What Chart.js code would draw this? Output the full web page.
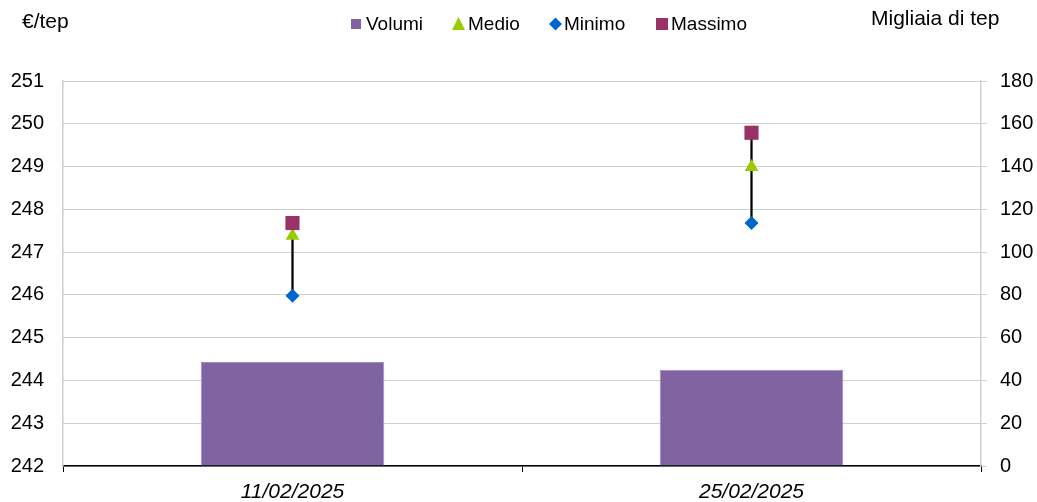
<!DOCTYPE html>
<html><head><meta charset="utf-8">
<script src="https://cdn.jsdelivr.net/npm/chart.js@4"></script>
<style>html,body{margin:0;padding:0;background:#fff}#wrap{width:1037px;height:502px}</style>
</head><body><div id="wrap"><canvas id="c" width="1037" height="502"></canvas></div>
<script>
const categories = ['11/02/2025', '25/02/2025'];
const volumi = [48.6, 45.0];
const medio = [247.38, 248.99];
const minimo = [245.98, 247.68];
const massimo = [247.68, 249.79];
const leftTicks = [242, 243, 244, 245, 246, 247, 248, 249, 250, 251];
const rightTicks = [0, 20, 40, 60, 80, 100, 120, 140, 160, 180];

const FONT = '"Liberation Sans", Arial, sans-serif';
const range = minimo.map((v, i) => [v, massimo[i]]);

const legendItems = [
  {label: 'Volumi', style: 'rect', color: '#8064A2', x: 351, tx: 366},
  {label: 'Medio', style: 'triangle', color: '#99CC00', x: 452, tx: 468},
  {label: 'Minimo', style: 'rectRot', color: '#0066CC', x: 549, tx: 564},
  {label: 'Massimo', style: 'rect', color: '#993366', x: 656, tx: 671}
];

const extras = {
  id: 'extras',
  afterDraw(chart) {
    const ctx = chart.ctx;
    ctx.save();
    ctx.fillStyle = '#000';
    ctx.font = '21px ' + FONT;
    ctx.textBaseline = 'middle';
    ctx.textAlign = 'left';
    ctx.fillText('€/tep', 22, 22);
    ctx.fillText('Migliaia di tep', 871, 19);
    legendItems.forEach(it => {
      const cy = 24;
      ctx.fillStyle = it.color;
      ctx.beginPath();
      if (it.style === 'rect') {
        const s = it.label === 'Massimo' ? 12 : 10;
        ctx.rect(it.x, cy - s / 2, s, s);
      } else if (it.style === 'triangle') {
        const cx = it.x + 6.5;
        ctx.moveTo(cx, cy - 7); ctx.lineTo(cx + 6.5, cy + 6); ctx.lineTo(cx - 6.5, cy + 6); ctx.closePath();
      } else {
        const cx = it.x + 6.5;
        ctx.moveTo(cx, cy - 6.5); ctx.lineTo(cx + 6.5, cy); ctx.lineTo(cx, cy + 6.5); ctx.lineTo(cx - 6.5, cy); ctx.closePath();
      }
      ctx.fill();
      ctx.fillStyle = '#000';
      ctx.font = '19px ' + FONT;
      ctx.fillText(it.label, it.tx, cy + 1);
    });
    ctx.restore();
  }
};

new Chart(document.getElementById('c'), {
  type: 'bar',
  data: {
    labels: categories,
    datasets: [
      {label: 'Massimo', type: 'line', data: massimo, yAxisID: 'y', showLine: false,
       pointStyle: 'rect', pointRadius: 10, pointBackgroundColor: '#993366', pointBorderColor: '#993366', pointBorderWidth: 0, order: 1},
      {label: 'Medio', type: 'line', data: medio, yAxisID: 'y', showLine: false,
       pointStyle: 'triangle', pointRadius: 8, pointBackgroundColor: '#99CC00', pointBorderColor: '#99CC00', pointBorderWidth: 0, order: 2},
      {label: 'Minimo', type: 'line', data: minimo, yAxisID: 'y', showLine: false,
       pointStyle: 'rectRot', pointRadius: 7, pointBackgroundColor: '#0066CC', pointBorderColor: '#0066CC', pointBorderWidth: 0, order: 3},
      {label: 'range', type: 'bar', data: range, yAxisID: 'y', backgroundColor: '#000', barThickness: 1.6,
       grouped: false, order: 4},
      {label: 'Volumi', type: 'bar', data: volumi, yAxisID: 'y1', backgroundColor: '#8064A2', borderColor: '#A08CBE', borderWidth: 1,
       grouped: false, barPercentage: 0.4, categoryPercentage: 1, order: 5}
    ]
  },
  options: {
    responsive: false,
    animation: false,
    layout: {padding: {top: 81, left: 0, right: 0, bottom: 0}},
    plugins: {legend: {display: false}, tooltip: {enabled: false}},
    scales: {
      x: {
        offset: true,
        grid: {offset: true, drawOnChartArea: false, drawTicks: true, tickLength: 6, color: '#000', lineWidth: 1},
        border: {color: '#000', width: 1.5},
        ticks: {font: {family: FONT, size: 21, style: 'italic'}, color: '#000', padding: 8, maxRotation: 0},
        afterFit(s) { s.height = 36; }
      },
      y: {
        position: 'left', min: 242, max: 251,
        afterBuildTicks(s) { s.ticks = leftTicks.map(v => ({value: v})); },
        grid: {color: '#a0a0a0', drawTicks: false, lineWidth: 1},
        border: {color: '#d0d0d0', width: 1.5, dash: [1, 1]},
        ticks: {font: {family: FONT, size: 20}, color: '#000', padding: 19},
        afterFit(s) { s.width = 63; }
      },
      y1: {
        position: 'right', min: 0, max: 180,
        afterBuildTicks(s) { s.ticks = rightTicks.map(v => ({value: v})); },
        grid: {drawOnChartArea: false, drawTicks: true, tickLength: 6, color: '#d0d0d0'},
        border: {color: '#d0d0d0', width: 1.5},
        ticks: {font: {family: FONT, size: 20}, color: '#000', padding: 13},
        afterFit(s) { s.width = 56; }
      }
    }
  },
  plugins: [extras]
});
</script></body></html>
